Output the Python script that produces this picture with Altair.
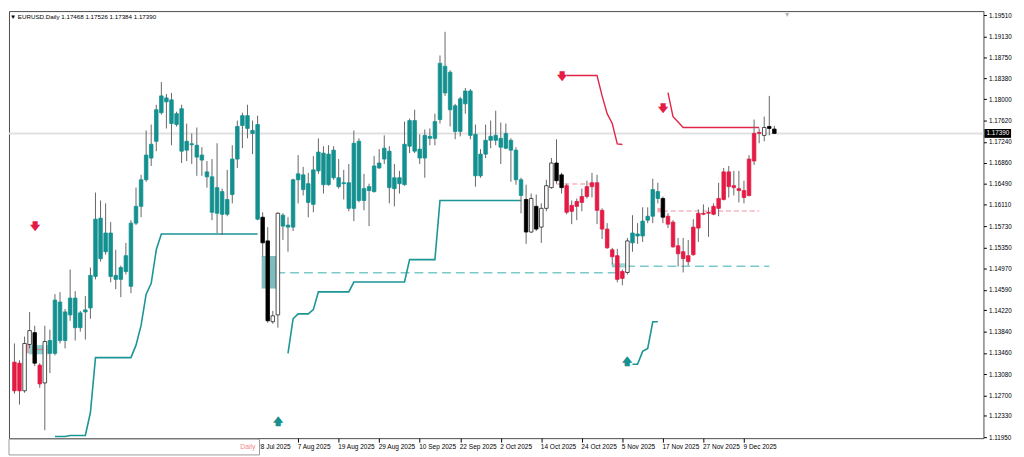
import altair as alt
import pandas as pd

# ---------------- data (EURUSD daily) ----------------
OPEN = [
    1.13293, 1.13275, 1.12780, 1.13610, 1.13822, 1.13239, 1.12921, 1.13451, 1.13451, 1.14370,
    1.13681, 1.14140, 1.14441, 1.13911, 1.14193, 1.14264, 1.14829, 1.15871, 1.15271, 1.15606,
    1.14847, 1.14776, 1.14917, 1.14652, 1.15783, 1.16084, 1.16560, 1.16949, 1.17249, 1.17761,
    1.18026, 1.17991, 1.17549, 1.17832, 1.17090, 1.17205, 1.17178, 1.17002, 1.16701, 1.16613,
    1.15960, 1.16348, 1.15942, 1.16295, 1.16931, 1.17532, 1.17708, 1.17443, 1.17549, 1.15889,
    1.15465, 1.14017, 1.14140, 1.15925, 1.15748, 1.15712, 1.16560, 1.16648, 1.16490, 1.16119,
    1.16719, 1.17037, 1.16472, 1.17090, 1.16596, 1.16507, 1.16507, 1.16048, 1.17249, 1.16189,
    1.16366, 1.16348, 1.16772, 1.16931, 1.17072, 1.16401, 1.16596, 1.16472, 1.17161, 1.17620,
    1.17108, 1.16949, 1.17302, 1.17302, 1.17638, 1.18592, 1.18486, 1.17885, 1.17426, 1.17920,
    1.18150, 1.17373, 1.16631, 1.17019, 1.17267, 1.17355, 1.17302, 1.17125, 1.17267, 1.17090,
    1.16560, 1.16207, 1.15624, 1.16084, 1.15712, 1.16048, 1.16419, 1.16860, 1.16648, 1.16454,
    1.15995, 1.16084, 1.16154, 1.16260, 1.16437, 1.16507, 1.16013, 1.15677, 1.15306, 1.15200,
    1.14794, 1.14900, 1.15430, 1.15589, 1.15553, 1.15836, 1.15907, 1.16348, 1.16225, 1.15907,
    1.15801, 1.15377, 1.15271, 1.15200, 1.15218, 1.15695, 1.15942, 1.15960, 1.15942, 1.16048,
    1.16207, 1.16701, 1.16454, 1.16401, 1.16366, 1.16278, 1.16896, 1.17390, 1.17355, 1.17514,
    1.17468,
]
HIGH = [
    1.13628, 1.13328, 1.13752, 1.14193, 1.13946, 1.13275, 1.13946, 1.13875, 1.14511, 1.14547,
    1.14246, 1.14953, 1.14564, 1.14211, 1.14476, 1.14988, 1.16331, 1.16189, 1.16137, 1.15801,
    1.15306, 1.15023, 1.15430, 1.15836, 1.16419, 1.16648, 1.17443, 1.17549, 1.17903, 1.18309,
    1.18097, 1.18115, 1.17779, 1.17903, 1.17567, 1.17390, 1.17496, 1.17143, 1.16896, 1.16931,
    1.17214, 1.16401, 1.16737, 1.17178, 1.17620, 1.17761, 1.17903, 1.17620, 1.17708, 1.15978,
    1.15712, 1.14211, 1.15978, 1.15960, 1.15889, 1.16578, 1.17002, 1.16790, 1.16684, 1.16984,
    1.17302, 1.17161, 1.17178, 1.17161, 1.16931, 1.16737, 1.16843, 1.17443, 1.17302, 1.16666,
    1.16490, 1.16984, 1.17108, 1.17355, 1.17161, 1.16843, 1.16719, 1.17602, 1.17655, 1.17814,
    1.17373, 1.17461, 1.17479, 1.17744, 1.18786, 1.19210, 1.18521, 1.17920, 1.18044, 1.18203,
    1.18185, 1.17549, 1.17108, 1.17549, 1.17620, 1.17797, 1.17585, 1.17567, 1.17302, 1.17143,
    1.16596, 1.16472, 1.16313, 1.16295, 1.16137, 1.16560, 1.16949, 1.17285, 1.16684, 1.16490,
    1.16189, 1.16225, 1.16401, 1.16543, 1.16684, 1.16648, 1.16048, 1.15783, 1.15341, 1.15324,
    1.14953, 1.15518, 1.15925, 1.15783, 1.16066, 1.16066, 1.16578, 1.16507, 1.16260, 1.15960,
    1.15836, 1.15518, 1.15518, 1.15483, 1.15854, 1.16031, 1.16119, 1.16066, 1.16137, 1.16507,
    1.16772, 1.16807, 1.16719, 1.16719, 1.16543, 1.17002, 1.17638, 1.17479, 1.17691, 1.18062,
    1.17526,
]
LOW = [
    1.12727, 1.12533, 1.12745, 1.13540, 1.13222, 1.12833, 1.12074, 1.13098, 1.13416, 1.13628,
    1.13540, 1.14034, 1.13681, 1.13840, 1.13699, 1.14070, 1.14776, 1.15094, 1.15218, 1.14723,
    1.14600, 1.14458, 1.14864, 1.14529, 1.15748, 1.15889, 1.16525, 1.16807, 1.17072, 1.17726,
    1.17479, 1.17178, 1.17514, 1.16860, 1.16896, 1.16843, 1.16631, 1.16631, 1.16419, 1.15836,
    1.15606, 1.15571, 1.15907, 1.16137, 1.16772, 1.17125, 1.17302, 1.17019, 1.15836, 1.15182,
    1.13999, 1.13981, 1.13911, 1.15483, 1.15271, 1.15642, 1.16137, 1.16278, 1.15889, 1.15978,
    1.16666, 1.16313, 1.16454, 1.16560, 1.16401, 1.16207, 1.15995, 1.15819, 1.16154, 1.16013,
    1.15730, 1.16330, 1.16754, 1.16843, 1.16137, 1.16084, 1.16313, 1.16454, 1.17037, 1.17037,
    1.16843, 1.16596, 1.17178, 1.17178, 1.17567, 1.18062, 1.17514, 1.17285, 1.17337, 1.17744,
    1.17285, 1.16437, 1.16596, 1.16949, 1.17125, 1.17178, 1.16843, 1.17108, 1.16525, 1.16472,
    1.15960, 1.15412, 1.15606, 1.15642, 1.15430, 1.15995, 1.16401, 1.16490, 1.16313, 1.15942,
    1.15765, 1.15836, 1.15995, 1.16225, 1.16242, 1.15765, 1.15500, 1.15324, 1.15041, 1.14723,
    1.14670, 1.14864, 1.15271, 1.15412, 1.15447, 1.15783, 1.15783, 1.16137, 1.15783, 1.15695,
    1.15341, 1.15006, 1.14900, 1.15023, 1.15200, 1.15447, 1.15925, 1.15536, 1.15925, 1.15907,
    1.16189, 1.16242, 1.16278, 1.16154, 1.16137, 1.16260, 1.16825, 1.17214, 1.17249, 1.17355,
    1.17384,
]
CLOSE = [
    1.12780, 1.12780, 1.13628, 1.13858, 1.13275, 1.12904, 1.13663, 1.13681, 1.14405, 1.13681,
    1.14193, 1.14441, 1.13911, 1.14176, 1.14229, 1.14847, 1.15854, 1.15147, 1.15606, 1.14829,
    1.14776, 1.14988, 1.15200, 1.15783, 1.16084, 1.16560, 1.17002, 1.17196, 1.17814, 1.18062,
    1.17956, 1.17567, 1.17744, 1.17072, 1.17249, 1.17188, 1.16966, 1.16913, 1.16613, 1.15978,
    1.16419, 1.15942, 1.16207, 1.16931, 1.17514, 1.17708, 1.17479, 1.17390, 1.15854, 1.15430,
    1.14034, 1.14123, 1.15960, 1.15730, 1.15712, 1.16560, 1.16666, 1.16384, 1.16154, 1.16737,
    1.17055, 1.16472, 1.17019, 1.16596, 1.16437, 1.16490, 1.16048, 1.17214, 1.16189, 1.16401,
    1.16437, 1.16807, 1.16860, 1.17125, 1.16419, 1.16596, 1.16490, 1.17196, 1.17620, 1.17072,
    1.16949, 1.17355, 1.17337, 1.17602, 1.18645, 1.18115, 1.17814, 1.17426, 1.18009, 1.18150,
    1.17355, 1.16631, 1.17019, 1.17267, 1.17337, 1.17267, 1.17143, 1.17390, 1.17090, 1.16560,
    1.16278, 1.15624, 1.16225, 1.15677, 1.16048, 1.16454, 1.16860, 1.16543, 1.16419, 1.15978,
    1.16101, 1.16172, 1.16260, 1.16437, 1.16507, 1.16013, 1.15677, 1.15341, 1.15182, 1.14776,
    1.14917, 1.15465, 1.15606, 1.15553, 1.15819, 1.15907, 1.16384, 1.16225, 1.15889, 1.15765,
    1.15359, 1.15235, 1.15147, 1.15094, 1.15712, 1.15960, 1.15960, 1.15978, 1.16084, 1.16225,
    1.16701, 1.16437, 1.16419, 1.16366, 1.16242, 1.16931, 1.17390, 1.17408, 1.17496, 1.17479,
    1.17390,
]
# trend state of each candle: t = teal, r = red, w = white (hollow), b = black
STATE = (
    "rrwwbrw"
    "tttttttttt" "tttttttttt" "tttttttttt" "tttttttttt" "tt"
    "bbww"
    "tttttttttt" "tttttttttt" "tttttttttt" "tttttttttt" "tttttttt"
    "bwbwwwbb"
    "rrrrrrrrrrrr"
    "w"
    "tttttt"
    "b"
    "rrrrrrrrrrrrrrrrrrr"
    "wbb"
)

# trailing-stop lines (bar index start, values)
TEAL_A_START = 8
TEAL_A = [1.11962, 1.11962, 1.11962, 1.11980, 1.11980, 1.11980, 1.11980, 1.12391,
          1.13375, 1.13375, 1.13375, 1.13375, 1.13375, 1.13375, 1.13375, 1.13375,
          1.13598, 1.13951, 1.14511, 1.14705, 1.15306, 1.15589,
          1.15589, 1.15589, 1.15589, 1.15589, 1.15589, 1.15589, 1.15589, 1.15589, 1.15589, 1.15589,
          1.15589, 1.15589, 1.15589, 1.15589, 1.15589, 1.15589, 1.15589, 1.15589, 1.15589]
TEAL_B_START = 54
TEAL_B = [1.13451, 1.14070, 1.14158, 1.14158, 1.14158, 1.14234,
          1.14552, 1.14552, 1.14552, 1.14552, 1.14552, 1.14552, 1.14552,
          1.14728, 1.14728, 1.14728, 1.14728, 1.14728, 1.14728, 1.14728, 1.14728, 1.14728, 1.14728, 1.14728,
          1.15129, 1.15129, 1.15129, 1.15129, 1.15129, 1.15129,
          1.16189, 1.16189, 1.16189, 1.16189, 1.16189, 1.16189, 1.16189, 1.16189, 1.16189,
          1.16189, 1.16189, 1.16189, 1.16189, 1.16189, 1.16189, 1.16189, 1.16189]
TEAL_C_START = 122
TEAL_C = [1.13257, 1.13257, 1.13487, 1.13540, 1.14017, 1.14017]
RED_D_START = 109
RED_D = [1.18427, 1.18427, 1.18427, 1.18427, 1.18427, 1.18427, 1.18427,
         1.18062, 1.17744, 1.17567, 1.17202, 1.17191]
RED_E_START = 129
RED_E = [1.18120, 1.17691, 1.17593, 1.17496, 1.17496, 1.17496, 1.17496, 1.17496, 1.17496,
         1.17496, 1.17496, 1.17496, 1.17496, 1.17496, 1.17496, 1.17496, 1.17496, 1.17496, 1.17496]

# horizontal levels: (from bar, to bar, price)
TEAL_LEVELS = [(51.7, 119.0, 1.14894), (118.0, 149.0, 1.15011)]
RED_LEVELS = [(107.0, 114.0, 1.16484), (128.0, 147.0, 1.16000)]
RED_THIN = [(3.6, 6.5, 1.13522)]
# zones: (from bar, to bar, low price, high price, colour)
ZONES = [
    (48.8, 51.7, 1.14612, 1.15194, "#7fbdbd"),
    (2.1, 2.9, 1.13451, 1.13610, "#f2a3b0"),
    (2.9, 6.9, 1.13434, 1.13598, "#8fcfcf"),
    (117.9, 121.1, 1.14988, 1.15063, "#9fd6d6"),
    (126.9, 128.0, 1.15977, 1.16057, "#f4a8b4"),
]
# signal arrows: (bar, price, glyph, colour)
ARROWS = [
    (4, 1.15712, "🡇", "#e31b45"),
    (108, 1.18397, "🡇", "#e31b45"),
    (128, 1.17820, "🡇", "#e31b45"),
    (52, 1.12215, "🡅", "#17908f"),
    (121, 1.13293, "🡅", "#17908f"),
]
CURRENT = 1.17390
PRICE_TICKS = [1.11950, 1.12330, 1.12700, 1.13080, 1.13460, 1.13840, 1.14220, 1.14590,
               1.14970, 1.15350, 1.15730, 1.16110, 1.16490, 1.16860, 1.17240, 1.17620,
               1.18000, 1.18380, 1.18750, 1.19130, 1.19510]
DATE_K = [48, 56, 64, 72, 80, 88, 96, 104, 112, 120, 128, 136, 144]
DATE_LABELS = ["28 Jul 2025", "7 Aug 2025", "19 Aug 2025", "29 Aug 2025", "10 Sep 2025",
               "22 Sep 2025", "2 Oct 2025", "14 Oct 2025", "24 Oct 2025", "5 Nov 2025",
               "17 Nov 2025", "27 Nov 2025", "9 Dec 2025"]
HEADER = "▼ EURUSD.Daily 1.17468 1.17526 1.17384 1.17390"

# ---------------- styling ----------------
TEAL = "#13908f"
RED = "#e31b45"
FONT = "Liberation Sans"
W, H = 988, 433

df = pd.DataFrame({"k": list(range(len(OPEN))), "open": OPEN, "high": HIGH,
                   "low": LOW, "close": CLOSE, "state": list(STATE)})
df["top"] = df[["open", "close"]].max(axis=1)
df["bot"] = df[["open", "close"]].min(axis=1)


def seg_rows(start, vals, name):
    return [{"k": start + i, "v": v, "seg": name} for i, v in enumerate(vals)]


teal_lines = pd.DataFrame(seg_rows(TEAL_A_START, TEAL_A, "A") + seg_rows(TEAL_B_START, TEAL_B, "B")
                          + seg_rows(TEAL_C_START, TEAL_C, "C"))
red_lines = pd.DataFrame(seg_rows(RED_D_START, RED_D, "D") + seg_rows(RED_E_START, RED_E, "E"))
teal_lv = pd.DataFrame(TEAL_LEVELS, columns=["k", "k2", "p"])
red_lv = pd.DataFrame(RED_LEVELS, columns=["k", "k2", "p"])
red_thin = pd.DataFrame(RED_THIN, columns=["k", "k2", "p"])
zones = pd.DataFrame(ZONES, columns=["k", "k2", "p", "p2", "fill"])
arrows = pd.DataFrame(ARROWS, columns=["k", "p", "g", "col"])
cur = pd.DataFrame({"p": [CURRENT], "lbl": [f"{CURRENT:.5f}"]})
one = pd.DataFrame({"t": [HEADER], "d": ["Daily"], "m": ["▼"]})

xs = alt.Scale(domain=[-0.1, 190.3], nice=False, zero=False)
ys = alt.Scale(domain=[1.11932, 1.19581], nice=False, zero=False)

label_expr = ("[" + ",".join(f"'{d}'" for d in DATE_LABELS) + "][indexof(["
              + ",".join(str(k) for k in DATE_K) + "], datum.value)]")
xaxis = alt.Axis(values=DATE_K, labelExpr=label_expr, grid=False, domain=False, ticks=True,
                 tickSize=4, tickColor="#000", labelAlign="left", labelOffset=-1, labelPadding=1,
                 labelFont=FONT, labelFontSize=6.6, labelColor="#000", labelOverlap=False,
                 labelFlush=False, title=None)
yaxis = alt.Axis(orient="right", values=PRICE_TICKS, format=".5f", grid=False, domain=False,
                 tickSize=3, tickColor="#000", labelPadding=2, labelFont=FONT, labelFontSize=6.4,
                 labelColor="#000", labelOverlap=False, labelFlush=False, title=None)


def X(f):
    return alt.X(f, type="quantitative", scale=xs, axis=xaxis, title=None)


def Y(f):
    return alt.Y(f, type="quantitative", scale=ys, axis=yaxis, title=None)


price_line = alt.Chart(cur).mark_rule(color="#e1e1e1", strokeWidth=2).encode(y=Y("p"))

zone_layer = alt.Chart(zones).mark_rect().encode(
    x=X("k"), x2="k2:Q", y=Y("p"), y2="p2:Q", color=alt.Color("fill:N", scale=None))

teal_dash = alt.Chart(teal_lv).mark_rule(color="#7cc9c9", strokeWidth=1.6, strokeDash=[9, 5]).encode(
    x=X("k"), x2="k2:Q", y=Y("p"))
red_dash = alt.Chart(red_lv).mark_rule(color="#ef8d9d", strokeWidth=1, strokeDash=[5, 3]).encode(
    x=X("k"), x2="k2:Q", y=Y("p"))
red_thin_l = alt.Chart(red_thin).mark_rule(color="#e06070", strokeWidth=0.8).encode(
    x=X("k"), x2="k2:Q", y=Y("p"))

teal_line = alt.Chart(teal_lines).mark_line(color="#1b9595", strokeWidth=1.6).encode(
    x=X("k"), y=Y("v"), detail="seg:N")
red_line = alt.Chart(red_lines).mark_line(color="#e02548", strokeWidth=1.4).encode(
    x=X("k"), y=Y("v"), detail="seg:N")

wicks = alt.Chart(df).mark_rule(color="#666666", strokeWidth=1).encode(
    x=X("k"), y=Y("low"), y2="high:Q")
bodies = alt.Chart(df).mark_bar(size=3.6, strokeWidth=0.8).encode(
    x=X("k"), y=Y("bot"), y2="top:Q",
    fill=alt.Fill("state:N", scale=alt.Scale(domain=["t", "r", "w", "b"],
                                              range=[TEAL, RED, "#ffffff", "#000000"]), legend=None),
    stroke=alt.Stroke("state:N", scale=alt.Scale(domain=["t", "r", "w", "b"],
                                                  range=[TEAL, RED, "#222222", "#000000"]), legend=None),
)

arrow_layer = alt.Chart(arrows).mark_text(font="DejaVu Sans", fontSize=10, fontWeight="bold",
                                          baseline="middle").encode(
    x=X("k"), y=Y("p"), text="g:N", color=alt.Color("col:N", scale=None))

header = alt.Chart(one).mark_text(align="left", baseline="middle", font=FONT, fontSize=6.3,
                                  color="#000").encode(x=alt.value(1), y=alt.value(6), text="t:N")
shift_mark = alt.Chart(one).mark_text(baseline="top", fontSize=7, color="#b5b5b5").encode(
    x=alt.value(789), y=alt.value(0), text="m:N")

price_box = alt.Chart(cur).mark_rule(color="#000", strokeWidth=9).encode(
    y=Y("p"), x=alt.value(W + 1), x2=alt.value(W + 28))
price_txt = alt.Chart(cur).mark_text(align="left", baseline="middle", font=FONT, fontSize=6.4,
                                     color="#ffffff").encode(y=Y("p"), x=alt.value(W + 3), text="lbl:N")

daily_box = alt.Chart(one).mark_rect(fill="#ffffff", stroke="#9a9a9a", strokeWidth=1).encode(
    x=alt.value(0), x2=alt.value(254), y=alt.value(434), y2=alt.value(450))
daily_txt = alt.Chart(one).mark_text(align="right", baseline="middle", font=FONT, fontSize=7,
                                     color="#f08a8a").encode(x=alt.value(250), y=alt.value(442), text="d:N")

chart = alt.layer(
    price_line, zone_layer, teal_dash, red_dash, red_thin_l, teal_line, red_line,
    wicks, bodies, arrow_layer, header, shift_mark, price_box, price_txt, daily_box, daily_txt,
).properties(
    width=W, height=H, background="#ffffff",
    padding={"left": 0, "top": 0, "right": 0, "bottom": 0},
).configure_view(stroke="#4a4a4a", strokeWidth=1)

chart.save("out.html", embed_options={"renderer": "svg", "actions": False})
